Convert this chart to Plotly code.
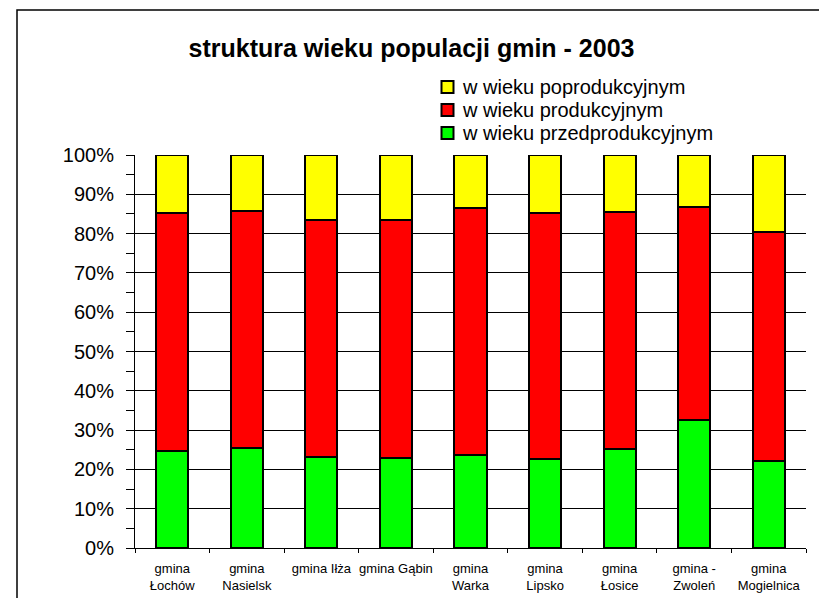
import plotly.graph_objects as go

# gminy (kategorie osi X)
gminy = [
    "gmina<br>Łochów", "gmina<br>Nasielsk", "gmina Iłża", "gmina Gąbin",
    "gmina<br>Warka", "gmina<br>Lipsko", "gmina<br>Łosice", "gmina -<br>Zwoleń",
    "gmina<br>Mogielnica",
]

# udziały procentowe
przedprodukcyjny = [24.8, 25.4, 23.2, 22.9, 23.6, 22.7, 25.2, 32.6, 22.1]
produkcyjny = [60.4, 60.3, 60.3, 60.6, 63.0, 62.6, 60.2, 54.1, 58.3]
poprodukcyjny = [14.8, 14.3, 16.5, 16.5, 13.4, 14.7, 14.6, 13.3, 19.6]

y_ticks = list(range(0, 101, 10))

FONT = "Arial, Liberation Sans, sans-serif"

# page has an 8px body margin, so the figure is a bit smaller than the window
W, H = 819, 590
L, R, T, B = 127, 21, 147, 50
PW, PH = W - L - R, H - T - B

def px_x(fx):
    return (fx - L) / PW

def px_y(fy):
    return 1 - (fy - T) / PH

fig = go.Figure()
series = [
    ("w wieku przedprodukcyjnym", przedprodukcyjny, "#00FF00"),
    ("w wieku produkcyjnym", produkcyjny, "#FF0000"),
    ("w wieku poprodukcyjnym", poprodukcyjny, "#FFFF00"),
]
for name, vals, col in series:
    fig.add_trace(go.Bar(
        x=gminy, y=vals, name=name, width=0.43,
        marker=dict(color=col, line=dict(color="black", width=2)),
    ))

fig.update_layout(
    width=W, height=H,
    barmode="stack",
    paper_bgcolor="white", plot_bgcolor="white",
    margin=dict(l=L, r=R, t=T, b=B, autoexpand=False),
    font=dict(family=FONT, color="black"),
    title=dict(
        text="<b>struktura wieku populacji gmin - 2003</b>",
        font=dict(size=25, family=FONT, color="black"),
        x=403.5 / W, xref="container", xanchor="center",
        y=1 - 40 / H, yref="container", yanchor="middle",
    ),
    showlegend=False,
)

fig.update_yaxes(
    range=[0, 100],
    tickvals=y_ticks, ticktext=[f"{v}%" for v in y_ticks],
    showgrid=True, gridcolor="black", gridwidth=1,
    showline=True, linecolor="black", linewidth=1,
    ticks="outside", ticklen=8, tickcolor="black",
    minor=dict(dtick=5, ticks="outside", ticklen=8, tickcolor="black", showgrid=False),
    tickfont=dict(size=20, family=FONT),
    ticklabelstandoff=8,
    zeroline=False,
)
fig.update_xaxes(
    showline=True, linecolor="black", linewidth=1,
    ticks="outside", ticklen=4, tickcolor="black", tickson="boundaries",
    tickfont=dict(size=13, family=FONT),
    ticklabelstandoff=8,
    tickangle=0,
)

# legenda rysowana recznie (Excel ma ciasniejsze odstepy niz plotly)
legend_rows = [79, 102, 125]
for (name, _, col), fy in zip(reversed(series), legend_rows):
    fig.add_shape(
        type="rect", xref="paper", yref="paper",
        xsizemode="pixel", ysizemode="pixel",
        xanchor=px_x(439.5), yanchor=px_y(fy),
        x0=-6, x1=6, y0=-6, y1=6,
        line=dict(color="black", width=2), fillcolor=col,
    )
    fig.add_annotation(
        text=name, xref="paper", yref="paper",
        x=px_x(452), y=px_y(fy), xanchor="left", yanchor="middle",
        showarrow=False, font=dict(size=20, family=FONT, color="black"),
    )

# ramka wykresu
fig.add_shape(
    type="rect", xref="paper", yref="paper",
    x0=px_x(9), x1=1.2, y0=-0.3, y1=px_y(2),
    line=dict(color="black", width=1.5), fillcolor="rgba(0,0,0,0)", layer="below",
)

fig.write_html("out.html")
